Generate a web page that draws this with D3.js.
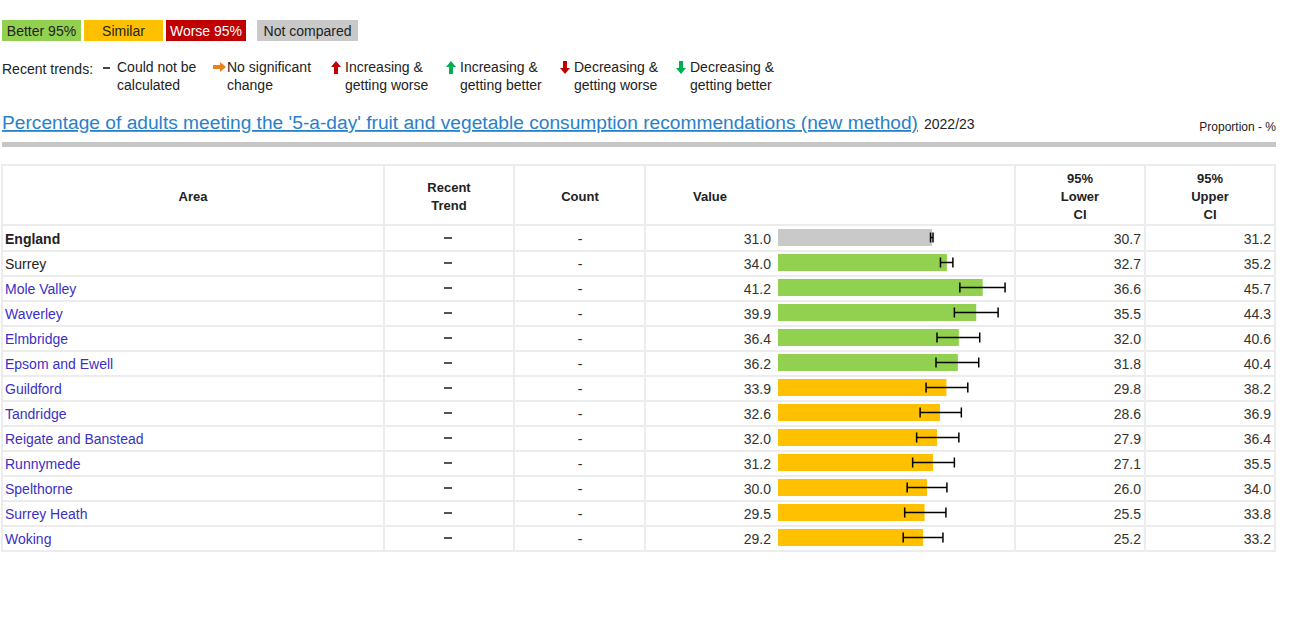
<!DOCTYPE html>
<html><head><meta charset="utf-8">
<script src="https://cdn.jsdelivr.net/npm/d3@7"></script>
<style>body{margin:0;background:#fff;font-family:"Liberation Sans",Arial,sans-serif}</style>
</head><body><svg id="c" width="1296" height="624"></svg>
<script>
const areas=["England","Surrey","Mole Valley","Waverley","Elmbridge","Epsom and Ewell","Guildford","Tandridge","Reigate and Banstead","Runnymede","Spelthorne","Surrey Heath","Woking"];
const values=[31.0,34.0,41.2,39.9,36.4,36.2,33.9,32.6,32.0,31.2,30.0,29.5,29.2];
const lowerCI=[30.7,32.7,36.6,35.5,32.0,31.8,29.8,28.6,27.9,27.1,26.0,25.5,25.2];
const upperCI=[31.2,35.2,45.7,44.3,40.6,40.4,38.2,36.9,36.4,35.5,34.0,33.8,33.2];
const comparison=["none","better","better","better","better","better","similar","similar","similar","similar","similar","similar","similar"];
const colors={better:"#92d050",similar:"#ffc000",worse:"#c00000",none:"#c9c9c9"};
const svg=d3.select("#c");
const F='"Liberation Sans",Arial,sans-serif';
const keys=[["Better 95%","#92d050","#222",2,79],["Similar","#ffc000","#222",84,79],["Worse 95%","#c00000","#fff",166,80],["Not compared","#c9c9c9","#222",257,101]];
keys.forEach(k=>{svg.append("rect").attr("x",k[3]).attr("y",20).attr("width",k[4]).attr("height",21).attr("fill",k[1]);
svg.append("text").attr("x",k[3]+k[4]/2).attr("y",36).attr("text-anchor","middle").attr("font-size",14).attr("fill",k[2]).text(k[0]);});
svg.append("text").attr("x",2).attr("y",74).attr("font-size",14).attr("fill","#222").text("Recent trends:");
const trends=[[103,"#444","dash","Could not be","calculated"],[213,"#e8821e","right","No significant","change"],[331,"#c00000","up","Increasing &","getting worse"],[446,"#00b050","up","Increasing &","getting better"],[560,"#c00000","down","Decreasing &","getting worse"],[676,"#00b050","down","Decreasing &","getting better"]];
trends.forEach(t=>{const x=t[0],g=svg.append("g");
 if(t[2]=="dash")g.append("rect").attr("x",x).attr("y",67).attr("width",7).attr("height",2).attr("fill",t[1]);
 else if(t[2]=="right")g.append("path").attr("d",`M${x},65h7v-3l6,5l-6,5v-3h-7z`).attr("fill",t[1]);
 else if(t[2]=="up")g.append("path").attr("d",`M${x+5},61l5,6h-3v7h-4v-7h-3z`).attr("fill",t[1]);
 else g.append("path").attr("d",`M${x+3},61h4v7h3l-5,6l-5,-6h3z`).attr("fill",t[1]);
 g.append("text").attr("x",x+14).attr("y",72).attr("font-size",14).attr("fill","#222").text(t[3]);
 g.append("text").attr("x",x+14).attr("y",90).attr("font-size",14).attr("fill","#222").text(t[4]);});
svg.append("text").attr("x",2).attr("y",129).attr("font-size",18).attr("fill","#2a7fc9").attr("text-decoration","underline").attr("textLength",916).attr("lengthAdjust","spacingAndGlyphs").text("Percentage of adults meeting the '5-a-day' fruit and vegetable consumption recommendations (new method)");
svg.append("text").attr("x",924).attr("y",129).attr("font-size",14).attr("fill","#222").text("2022/23");
svg.append("text").attr("x",1276).attr("y",131).attr("text-anchor","end").attr("font-size",12).attr("fill","#222").text("Proportion - %");
svg.append("rect").attr("x",2).attr("y",142).attr("width",1274).attr("height",5).attr("fill","#c6c6c6");
const cols=[2,384,514,645,1015,1145,1275];
const headTop=165,rowH=25,rowTop=226;
const yS=d3.scaleBand().domain(areas).range([rowTop,rowTop+rowH*areas.length]);
const grid="#ececec";
svg.append("rect").attr("x",2).attr("y",headTop).attr("width",1273).attr("height",rowTop+rowH*areas.length-headTop).attr("fill","none").attr("stroke",grid).attr("stroke-width",2);
cols.slice(1,-1).forEach(x=>svg.append("line").attr("x1",x).attr("x2",x).attr("y1",headTop).attr("y2",rowTop+rowH*areas.length).attr("stroke",grid).attr("stroke-width",2));
[rowTop-1].concat(areas.slice(1).map(a=>yS(a))).forEach(y=>svg.append("line").attr("x1",2).attr("x2",1275).attr("y1",y).attr("y2",y).attr("stroke",grid).attr("stroke-width",2));
const hdr=[[193,["Area"]],[449,["Recent","Trend"]],[580,["Count"]],[710,["Value"]],[1080,["95%","Lower","CI"]],[1210,["95%","Upper","CI"]]];
hdr.forEach(h=>{const n=h[1].length;h[1].forEach((s,i)=>svg.append("text").attr("x",h[0]).attr("y",headTop+36-(n-1)*9+i*18).attr("text-anchor","middle").attr("font-size",13).attr("font-weight","bold").attr("fill","#222").text(s));});
const x=d3.scaleLinear().domain([0,47.5]).range([778,1014]);
areas.forEach((a,i)=>{const y=yS(a),cy=y+13;
 svg.append("text").attr("x",5).attr("y",cy+5).attr("font-size",14).attr("font-weight",i==0?"bold":"normal").attr("fill",i<2?"#222":"#3b30c4").text(a);
 svg.append("rect").attr("x",444).attr("y",cy-2).attr("width",8).attr("height",2).attr("fill","#555");
 svg.append("text").attr("x",580).attr("y",cy+5).attr("text-anchor","middle").attr("font-size",14).attr("fill","#222").text("-");
 svg.append("text").attr("x",771).attr("y",cy+5).attr("text-anchor","end").attr("font-size",14).attr("fill","#333").text(values[i].toFixed(1));
 svg.append("text").attr("x",1141).attr("y",cy+5).attr("text-anchor","end").attr("font-size",14).attr("fill","#333").text(lowerCI[i].toFixed(1));
 svg.append("text").attr("x",1271).attr("y",cy+5).attr("text-anchor","end").attr("font-size",14).attr("fill","#333").text(upperCI[i].toFixed(1));
 svg.append("rect").attr("x",x(0)).attr("y",y+3).attr("width",x(values[i])-x(0)).attr("height",17).attr("fill",colors[comparison[i]]);
 const ey=y+11.5;
 svg.append("line").attr("x1",x(lowerCI[i])).attr("x2",x(upperCI[i])).attr("y1",ey).attr("y2",ey).attr("stroke","#000").attr("stroke-width",1.5);
 [lowerCI[i],upperCI[i]].forEach(v=>svg.append("line").attr("x1",x(v)).attr("x2",x(v)).attr("y1",ey-5).attr("y2",ey+5).attr("stroke","#000").attr("stroke-width",1.5));
});
svg.selectAll("text").attr("font-family",F);
</script></body></html>
